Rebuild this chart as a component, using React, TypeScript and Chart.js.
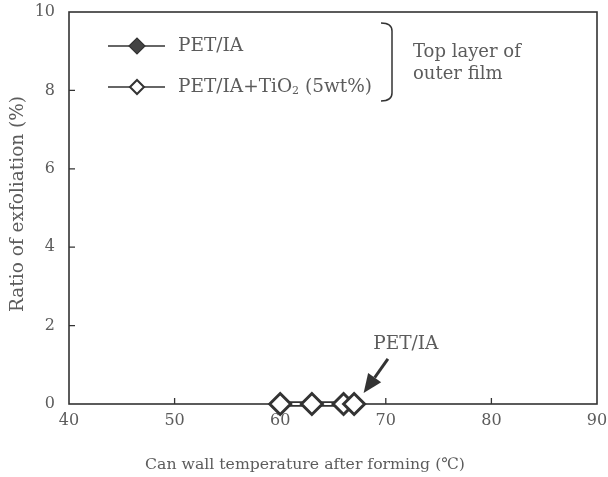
import React, { useEffect, useRef } from "react";
import { Chart, registerables } from "chart.js";

Chart.register(...registerables);

// Can wall temperature after forming (°C) and ratio of exfoliation (%)
const temperatures = [60, 63, 66, 67];
const exfoliationPetIa = [0, 0, 0, 0];
const exfoliationPetIaTiO2 = [0, 0, 0, 0];

const xTicks = [40, 50, 60, 70, 80, 90];
const yTicks = [0, 2, 4, 6, 8, 10];

const FONT = "'DejaVu Serif', 'Liberation Serif', serif";
const INK = "#333333";
const TEXT = "#5c5c5c";

function diamond(ctx: CanvasRenderingContext2D, x: number, y: number, r: number) {
  ctx.beginPath();
  ctx.moveTo(x - r, y);
  ctx.lineTo(x, y - r);
  ctx.lineTo(x + r, y);
  ctx.lineTo(x, y + r);
  ctx.closePath();
}

const framePlugin = {
  id: "frameAndInnerTicks",
  beforeDatasetsDraw(chart: any) {
    const { ctx, chartArea: a, scales } = chart;
    ctx.save();
    ctx.strokeStyle = INK;
    ctx.lineWidth = 1.6;
    ctx.strokeRect(a.left, a.top, a.right - a.left, a.bottom - a.top);
    ctx.lineWidth = 1.3;
    ctx.beginPath();
    for (const v of xTicks.slice(1, -1)) {
      const px = scales.x.getPixelForValue(v);
      ctx.moveTo(px, a.bottom);
      ctx.lineTo(px, a.bottom - 6);
    }
    for (const v of yTicks.slice(1, -1)) {
      const py = scales.y.getPixelForValue(v);
      ctx.moveTo(a.left, py);
      ctx.lineTo(a.left + 6, py);
    }
    ctx.stroke();
    ctx.restore();
  },
};

const notesPlugin = {
  id: "legendAndNotes",
  afterDraw(chart: any) {
    const { ctx, scales } = chart;
    ctx.save();
    ctx.textBaseline = "middle";

    // axis titles
    ctx.fillStyle = TEXT;
    ctx.textAlign = "center";
    ctx.font = `15.7px ${FONT}`;
    ctx.fillText("Can wall temperature after forming (℃)", 305, 465);
    ctx.save();
    ctx.translate(18, 204);
    ctx.rotate(-Math.PI / 2);
    ctx.font = `18.5px ${FONT}`;
    ctx.fillText("Ratio of exfoliation (%)", 0, 0);
    ctx.restore();

    // legend rows
    const rows = [
      { y: 46, filled: true },
      { y: 87, filled: false },
    ];
    for (const row of rows) {
      ctx.strokeStyle = INK;
      ctx.lineWidth = 1.6;
      ctx.beginPath();
      ctx.moveTo(108, row.y);
      ctx.lineTo(165, row.y);
      ctx.stroke();
      diamond(ctx, 137, row.y, row.filled ? 8 : 7);
      ctx.fillStyle = row.filled ? "#444444" : "#ffffff";
      ctx.fill();
      ctx.lineWidth = row.filled ? 1.2 : 2;
      ctx.stroke();
    }
    const big = `18.5px ${FONT}`;
    ctx.font = big;
    ctx.fillStyle = TEXT;
    ctx.textAlign = "left";
    ctx.fillText("PET/IA", 178, 46);
    let x = 178;
    const part1 = "PET/IA+TiO";
    ctx.fillText(part1, x, 87);
    x += ctx.measureText(part1).width;
    ctx.font = `11px ${FONT}`;
    ctx.fillText("2", x, 91);
    x += ctx.measureText("2").width;
    ctx.font = big;
    ctx.fillText(" (5wt%)", x, 87);

    // bracket
    ctx.strokeStyle = INK;
    ctx.lineWidth = 1.5;
    ctx.beginPath();
    ctx.moveTo(381, 23);
    ctx.quadraticCurveTo(392, 23, 392, 31);
    ctx.lineTo(392, 93);
    ctx.quadraticCurveTo(392, 101, 381, 101);
    ctx.stroke();
    ctx.font = `18px ${FONT}`;
    ctx.fillText("Top layer of", 413, 52);
    ctx.fillText("outer film", 413, 74);

    // arrow pointing at the PET/IA series
    const sx = scales.x.getPixelForValue(70.2);
    const sy = scales.y.getPixelForValue(1.15);
    const tx = scales.x.getPixelForValue(67.9);
    const ty = scales.y.getPixelForValue(0.28);
    const ang = Math.atan2(ty - sy, tx - sx);
    const headLen = 19;
    const headHalf = 8;
    const bx = tx - headLen * Math.cos(ang);
    const by = ty - headLen * Math.sin(ang);
    ctx.lineWidth = 3;
    ctx.beginPath();
    ctx.moveTo(sx, sy);
    ctx.lineTo(bx, by);
    ctx.stroke();
    ctx.fillStyle = INK;
    ctx.beginPath();
    ctx.moveTo(tx, ty);
    ctx.lineTo(bx - headHalf * Math.sin(ang), by + headHalf * Math.cos(ang));
    ctx.lineTo(bx + headHalf * Math.sin(ang), by - headHalf * Math.cos(ang));
    ctx.closePath();
    ctx.fill();

    ctx.fillStyle = TEXT;
    ctx.textAlign = "center";
    ctx.font = big;
    ctx.fillText("PET/IA", scales.x.getPixelForValue(71.9), scales.y.getPixelForValue(1.52));
    ctx.restore();
  },
};

export default function App() {
  const canvasRef = useRef<HTMLCanvasElement | null>(null);

  useEffect(() => {
    if (!canvasRef.current) return;
    const chart = new Chart(canvasRef.current, {
      type: "line",
      data: {
        datasets: [
          {
            label: "PET/IA+TiO2 (5wt%)",
            data: temperatures.map((t, i) => ({ x: t, y: exfoliationPetIaTiO2[i] })),
            borderColor: "#ffffff",
            borderWidth: 2.2,
            pointStyle: "rectRot",
            pointRadius: 10.5,
            pointBorderWidth: 3,
            pointBorderColor: INK,
            pointBackgroundColor: "#ffffff",
            clip: false,
          },
          {
            label: "outline",
            data: temperatures.map((t, i) => ({ x: t, y: exfoliationPetIaTiO2[i] })),
            borderColor: INK,
            borderWidth: 5.5,
            pointRadius: 0,
            clip: false,
          },
          {
            label: "PET/IA",
            data: temperatures.map((t, i) => ({ x: t, y: exfoliationPetIa[i] })),
            borderColor: INK,
            borderWidth: 1.5,
            pointStyle: "rectRot",
            pointRadius: 9,
            pointBorderColor: INK,
            pointBackgroundColor: "#444444",
            clip: false,
          },
        ],
      },
      options: {
        responsive: false,
        animation: false,
        layout: { autoPadding: false, padding: { left: 0, right: 11, top: 12, bottom: 0 } },
        plugins: { legend: { display: false }, tooltip: { enabled: false } },
        scales: {
          x: {
            type: "linear",
            min: 40,
            max: 90,
            afterFit: (s: any) => {
              s.height = 73;
              s.paddingLeft = 0;
              s.paddingRight = 0;
            },
            afterBuildTicks: (s: any) => {
              s.ticks = xTicks.map((v) => ({ value: v }));
            },
            grid: { display: false, drawTicks: false },
            border: { display: false },
            ticks: {
              color: TEXT,
              font: { family: FONT, size: 16 },
              padding: 7,
              maxRotation: 0,
            },
          },
          y: {
            type: "linear",
            min: 0,
            max: 10,
            afterFit: (s: any) => {
              s.width = 69;
              s.paddingTop = 0;
              s.paddingBottom = 0;
            },
            afterBuildTicks: (s: any) => {
              s.ticks = yTicks.map((v) => ({ value: v }));
            },
            grid: { display: false, drawTicks: false },
            border: { display: false },
            ticks: {
              color: TEXT,
              font: { family: FONT, size: 16 },
              padding: 14,
            },
          },
        },
      },
      plugins: [framePlugin, notesPlugin],
    });
    return () => chart.destroy();
  }, []);

  return (
    <div style={{ position: "absolute", left: 0, top: 0, width: 608, height: 477, background: "#ffffff" }}>
      <canvas ref={canvasRef} width={608} height={477} style={{ display: "block" }} />
    </div>
  );
}
